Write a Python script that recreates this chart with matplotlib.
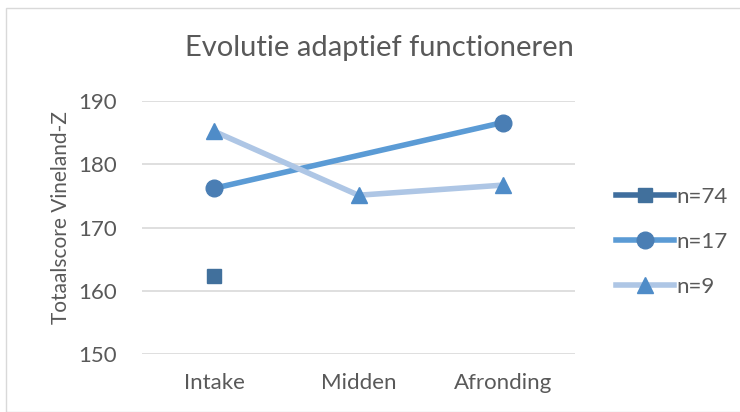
import matplotlib.pyplot as plt
from matplotlib.patches import Rectangle

plt.rcParams['font.family'] = ['Lato', 'DejaVu Sans']

categories = ["Intake", "Midden", "Afronding"]
n74 = [162.4, None, None]
n17 = [176.2, None, 186.6]
n9 = [185.2, 175.1, 176.7]
series_labels = ["n=74", "n=17", "n=9"]
yticks = [150, 160, 170, 180, 190]

txt = '#595959'

fig = plt.figure(figsize=(7.4, 4.12), dpi=100)
fig.patches.append(Rectangle((6/740, 0), 1, 1 - 8/412, transform=fig.transFigure,
                             fill=False, edgecolor='#D9D9D9', linewidth=1))
ax = fig.add_axes([142/740, 1 - 354/412, (575 - 142)/740, (354 - 101)/412])

x = list(range(len(categories)))

def pts(vals):
    xs = [i for i, v in enumerate(vals) if v is not None]
    ys = [v for v in vals if v is not None]
    return xs, ys

xs, ys = pts(n74)
ax.plot(xs, ys, color='#3F6E9E', linewidth=4, marker='s', markersize=10,
        markerfacecolor='#41709C', markeredgecolor='#41709C', label=series_labels[0])
# n=17 has no middle value, Excel still connects the two points
xs, ys = pts(n17)
ax.plot(xs, ys, color='#5B9BD5', linewidth=4, marker='o', markersize=12,
        markerfacecolor='#4A7EB4', markeredgecolor='#4A7EB4', label=series_labels[1])
ax.plot(x, n9, color='#AEC6E5', linewidth=4, marker='^', markersize=12,
        markerfacecolor='#4F8CC8', markeredgecolor='#4F8CC8', label=series_labels[2])

ax.set_xlim(-0.5, 2.5)
ax.set_ylim(150, 190)
ax.set_yticks(yticks)
ax.set_xticks(x)
ax.set_xticklabels(categories)
ax.grid(axis='y', color='#D9D9D9', linewidth=1.2)
ax.set_axisbelow(True)
for s in ax.spines.values():
    s.set_visible(False)
ax.tick_params(length=0, labelsize=16, colors=txt)
ax.tick_params(axis='x', pad=14)
ax.tick_params(axis='y', pad=18)
ax.set_ylabel("Totaalscore Vineland-Z", fontsize=15, color=txt)
ax.yaxis.set_label_coords(-(142 - 71) / 433, (354 - 218) / 253)

fig.text(379/740, 1 - 48/412, "Evolutie adaptief functioneren", fontsize=21,
         color=txt, ha='center', va='center')

ax.legend(loc='center left', bbox_to_anchor=((616 - 142) / 433, (354 - 242) / 253),
          frameon=False, fontsize=16, labelcolor=txt, handlelength=2.6,
          handletextpad=0.1, labelspacing=1.12, borderaxespad=0, borderpad=0)

fig.savefig("out.png", dpi=100)
